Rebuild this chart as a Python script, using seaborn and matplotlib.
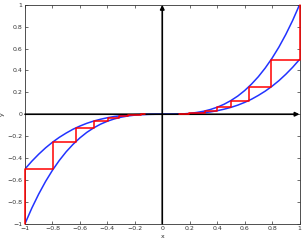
import numpy as np
import pandas as pd
import seaborn as sns
import matplotlib.pyplot as plt

x_vals = [-1.0, -0.95, -0.9, -0.85, -0.8, -0.75, -0.7, -0.65, -0.6, -0.55, -0.5,
          -0.45, -0.4, -0.35, -0.3, -0.25, -0.2, -0.15, -0.1, -0.05, 0.0,
          0.05, 0.1, 0.15, 0.2, 0.25, 0.3, 0.35, 0.4, 0.45, 0.5,
          0.55, 0.6, 0.65, 0.7, 0.75, 0.8, 0.85, 0.9, 0.95, 1.0]
upper = [-1.0, -0.857, -0.729, -0.614, -0.512, -0.422, -0.343, -0.275, -0.216, -0.166, -0.125,
         -0.091, -0.064, -0.043, -0.027, -0.016, -0.008, -0.003, -0.001, -0.0001, 0.0,
         0.0001, 0.001, 0.003, 0.008, 0.016, 0.027, 0.043, 0.064, 0.091, 0.125,
         0.166, 0.216, 0.275, 0.343, 0.422, 0.512, 0.614, 0.729, 0.857, 1.0]
lower = [-0.5, -0.429, -0.365, -0.307, -0.256, -0.211, -0.172, -0.137, -0.108, -0.083, -0.0625,
         -0.046, -0.032, -0.021, -0.0135, -0.008, -0.004, -0.0017, -0.0005, -0.0001, 0.0,
         0.0001, 0.0005, 0.0017, 0.004, 0.008, 0.0135, 0.021, 0.032, 0.046, 0.0625,
         0.083, 0.108, 0.137, 0.172, 0.211, 0.256, 0.307, 0.365, 0.429, 0.5]

# staircase corners
step_x = [1.0, 0.794, 0.63, 0.5, 0.397, 0.315, 0.25, 0.198, 0.157, 0.125]
step_y = [1.0, 0.5, 0.25, 0.125, 0.0625, 0.03125, 0.0156, 0.0078, 0.0039, 0.002]

ticks = [-1, -0.8, -0.6, -0.4, -0.2, 0, 0.2, 0.4, 0.6, 0.8, 1]
tick_labels = ['\u22121', '\u22120.8', '\u22120.6', '\u22120.4', '\u22120.2', '0',
               '0.2', '0.4', '0.6', '0.8', '1']


def stair(sign):
    px, py = [], []
    for i in range(len(step_x) - 1):
        px += [sign * step_x[i], sign * step_x[i]]
        py += [sign * step_y[i], sign * step_y[i + 1]]
        px.append(sign * step_x[i + 1])
        py.append(sign * step_y[i + 1])
    return pd.DataFrame({'x': px, 'y': py})


sns.set_style('ticks')
plt.rcParams['font.family'] = ['DejaVu Sans']
fig = plt.figure(figsize=(3.05, 2.41), dpi=100)
ax = fig.add_axes([0.082, 0.072, 0.9, 0.908])

curves = pd.DataFrame({'x': x_vals, 'upper': upper, 'lower': lower})
sns.lineplot(data=curves, x='x', y='upper', color='#2233ff', lw=1.1, ax=ax)
sns.lineplot(data=curves, x='x', y='lower', color='#2233ff', lw=1.1, ax=ax)
for s in (1, -1):
    d = stair(s)
    sns.lineplot(data=d, x='x', y='y', sort=False, estimator=None, color='red', lw=1.1,
                 ax=ax, clip_on=False, zorder=5)

ax.annotate('', xy=(1.0, 0), xytext=(-1.0, 0),
            arrowprops=dict(arrowstyle='-|>', color='black', lw=1.2, mutation_scale=6, shrinkA=0, shrinkB=0))
ax.annotate('', xy=(0, 1.0), xytext=(0, -1.0),
            arrowprops=dict(arrowstyle='-|>', color='black', lw=1.2, mutation_scale=6, shrinkA=0, shrinkB=0))

ax.set_xlim(-1, 1)
ax.set_ylim(-1, 1)
ax.set_xticks(ticks)
ax.set_xticklabels(tick_labels)
ax.set_yticks(ticks)
ax.set_yticklabels(tick_labels)
ax.tick_params(direction='in', length=2, width=0.5, labelsize=4.5, pad=2,
               top=True, right=True, colors='#333333')
for sp in ax.spines.values():
    sp.set_linewidth(0.6)
    sp.set_color('#333333')
ax.set_xlabel('x', fontsize=4.5, labelpad=2)
ax.set_ylabel('y', fontsize=4.5, labelpad=2)

fig.savefig('out.png', dpi=100)
